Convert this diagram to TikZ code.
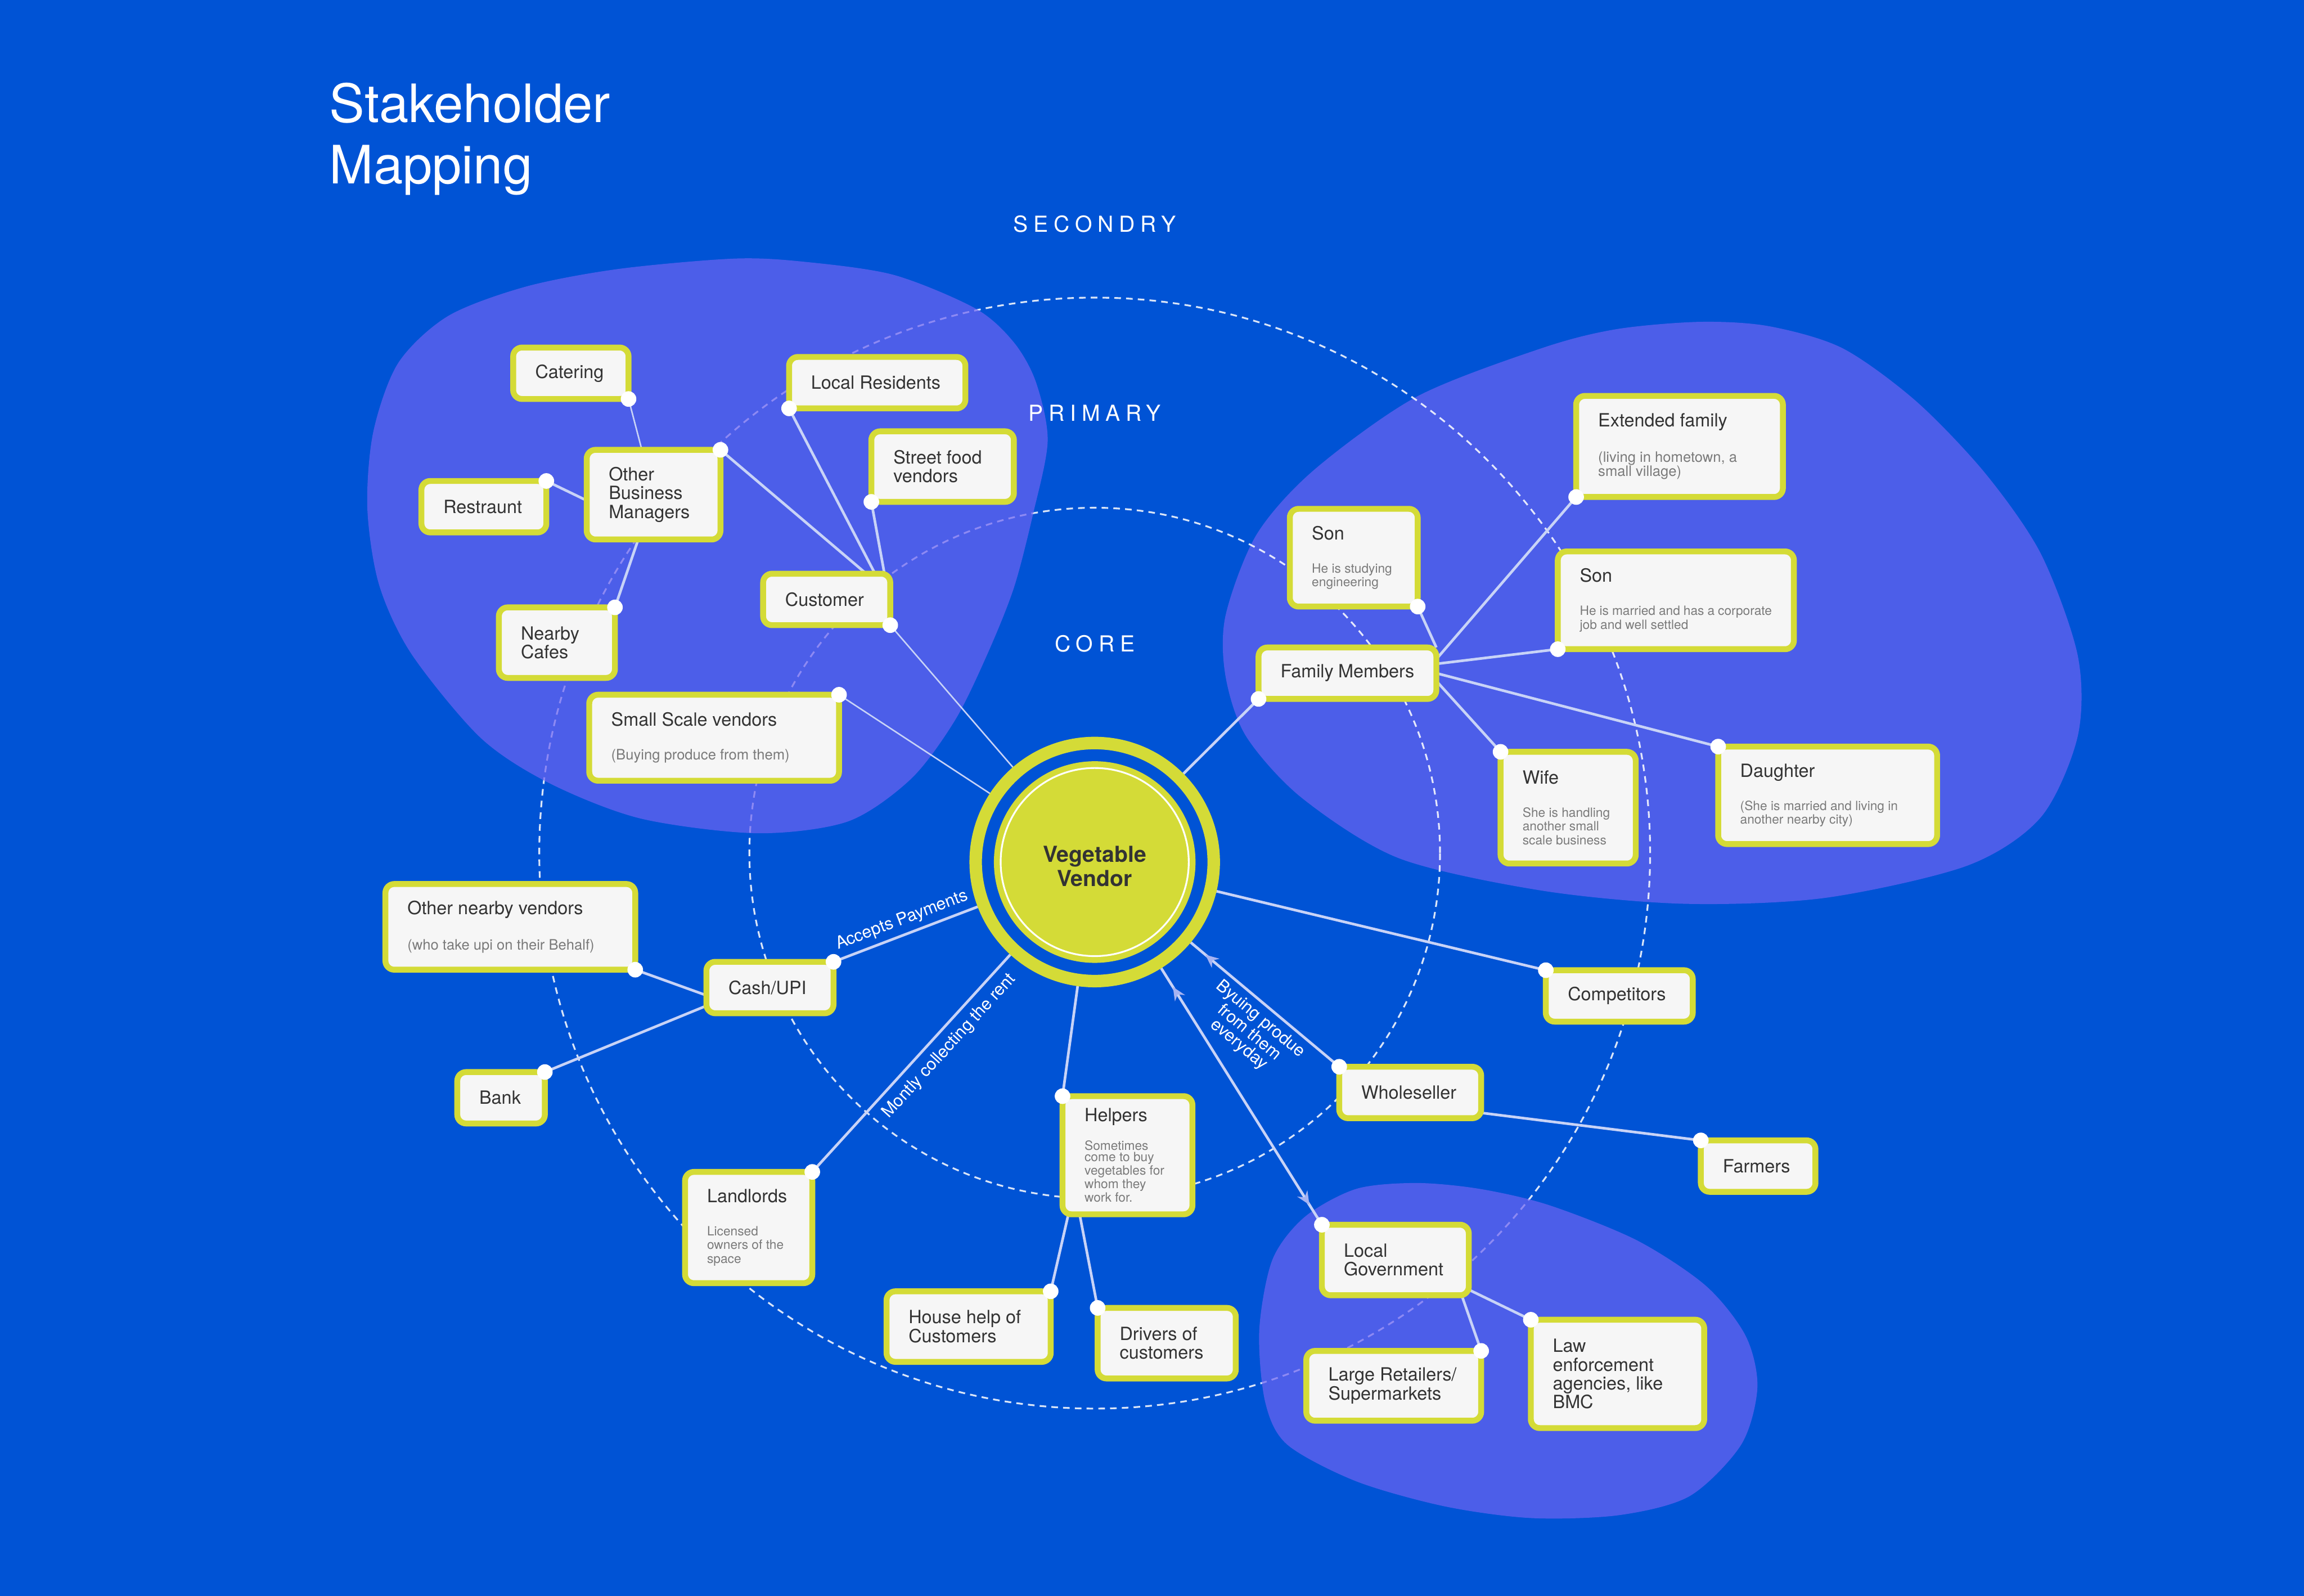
\documentclass[tikz,border=0pt]{standalone}
\usepackage{fontspec}
\setmainfont{TeX Gyre Heros}
\usetikzlibrary{arrows.meta, decorations.markings}

\definecolor{sea}{HTML}{0053D5}
\definecolor{blobc}{HTML}{4C5EE9}
\definecolor{blobt}{HTML}{6D63F2}
\definecolor{lime}{HTML}{D4DB37}
\definecolor{paper}{HTML}{F6F6F6}
\definecolor{ink}{HTML}{333333}
\definecolor{mute}{HTML}{7A7A7A}
\definecolor{wire}{HTML}{C8D3F7}
\definecolor{tipc}{HTML}{A6B3F2}

\pgfdeclarelayer{back}
\pgfdeclarelayer{links}
\pgfsetlayers{back,links,main}

\newcommand{\ttlfont}{\fontsize{12.4}{12.8}\selectfont}
\newcommand{\subfont}{\fontsize{8.7}{9.4}\selectfont\color{mute}}
\newcommand{\subwfont}{\fontsize{9.8}{9.7}\selectfont\color{mute}}
% title line plus a small grey note under it
\newcommand{\card}[2]{{\ttlfont #1\par}\vspace{13.2pt}{\subfont #2\par}}
\newcommand{\cardw}[2]{{\ttlfont #1\par}\vspace{13.3pt}{\subwfont #2\par}}

\begin{document}
\begin{tikzpicture}[x=1pt, y=-1pt,
    card/.style={rectangle, rounded corners=6pt, draw=lime, line width=4pt,
      fill=paper, text=ink, align=flush left, inner xsep=15pt, inner ysep=0pt,
      outer sep=0pt, font=\ttlfont},
    hub/.style={circle, draw=lime, line width=8.5pt, fill=sea,
      minimum size=162pt, inner sep=0pt, align=center, text=ink,
      text height=32.8pt, font=\fontsize{15}{16.4}\selectfont\bfseries,
      path picture={
        \fill[lime] (path picture bounding box.center) circle (68.6pt);
        \draw[white, line width=1.2pt] (path picture bounding box.center) circle (64pt);
      }},
    link/.style={draw=wire, line width=1.8pt},
    thinlink/.style={draw=wire, line width=1pt},
    ring/.style={draw=white, draw opacity=0.85, line width=1.2pt,
      dash pattern=on 4.5pt off 3.5pt},
    ringlbl/.style={text=white, inner sep=0pt,
      font=\fontsize{15}{15}\selectfont\addfontfeature{LetterSpace=25}},
    note/.style={text=white, sloped, font=\fontsize{11.6}{10.6}\selectfont},
    backtip/.style={postaction={decorate}, decoration={markings,
      mark=at position 13pt with {\arrowreversed{Stealth[length=9pt, width=8pt, color=tipc]}}}},
    bothtip/.style={postaction={decorate}, decoration={markings,
      mark=at position 15pt with {\arrowreversed{Stealth[length=9pt, width=8pt, color=tipc]}},
      mark=at position -16pt with {\arrow{Stealth[length=9pt, width=8pt, color=tipc]}}}}
  ]

    \useasboundingbox (0,0) rectangle (1568,1086);

    % --- Background, groups and rings ---
    \begin{pgfonlayer}{back}
      \fill[sea] (0,0) rectangle (1568,1086);
      % family group sits under the rings
      \fill[blobc] plot[smooth cycle] coordinates {(1157,219) (1204,222) (1254,237)
        (1304,273) (1351,322) (1389,377) (1414,446) (1414,501) (1389,556) (1339,589)
        (1242,611) (1146,615) (1049,606) (952,584) (886,543) (848,501) (834,460)
        (834,419) (855,364) (894,320) (964,270) (1049,237) (1100,224)};
      \draw[ring] (745,580.5) circle (235pt);
      \draw[ring] (745,580.5) circle (378pt);
      % customer group and government group lie over the rings
      \fill[blobt, fill opacity=0.7] plot[smooth cycle] coordinates {(499,176) (546,178)
        (608,187) (664,210) (690,233) (705,260) (713,300) (703,350) (690,400) (672,445)
        (650,490) (620,530) (577,559) (515,567) (436,557) (374,533) (327,502) (280,445)
        (258,398) (250,346) (254,294) (271,247) (305,215) (358,195) (421,183)};
      \fill[blobt, fill opacity=0.7] plot[smooth cycle] coordinates {(964,805) (1007,809)
        (1054,820) (1114,844) (1161,875) (1188,909) (1196,944) (1185,983) (1150,1018)
        (1102,1031) (1042,1033) (983,1025) (923,1008) (876,983) (861,954) (857,905)
        (866,857) (888,828) (923,809)};
    \end{pgfonlayer}

    % --- Heading and ring names ---
    \node[anchor=north west, inner sep=0pt, text=white, align=left,
          font=\fontsize{36}{41.8}\selectfont] (title) at (224,56) {Stakeholder\\Mapping};
    \node[ringlbl] (lblSec) at (745,152.6) {SECONDRY};
    \node[ringlbl] (lblPri) at (745,281) {PRIMARY};
    \node[ringlbl] (lblCore) at (745,438) {CORE};

    % --- Centre ---
    \node[hub] (vendor) at (745,586.6) {Vegetable\\Vendor};

    % --- Customer group ---
    \node[card, text width=48.5pt, minimum height=35] (cater) at (388.5,254) {Catering};
    \node[card, text width=90pt, minimum height=35] (resid) at (597,260.4) {Local~Residents};
    \node[card, text width=55pt, minimum height=35] (restr) at (329.3,344.8) {Restraunt};
    \node[card, text width=61pt, minimum height=61] (obm) at (444.8,336.6) {Other\\Business\\Managers};
    \node[card, text width=67pt, minimum height=48] (street) at (641.5,317.5) {Street~food\\vendors};
    \node[card, text width=49pt, minimum height=48] (cafes) at (379,437.3) {Nearby\\Cafes};
    \node[card, text width=56.5pt, minimum height=35] (cust) at (562.6,407.9) {Customer};
    \node[card, text width=140pt, minimum height=58.5] (small) at (486,502)
      {\cardw{Small~Scale~vendors}{(Buying~produce~from~them)}};

    % --- Family group ---
    \node[card, text width=57pt, minimum height=66.5] (sonA) at (921.3,379.5)
      {\card{Son}{He~is~studying\\engineering}};
    \node[card, text width=110.7pt, minimum height=68.8] (ext) at (1143,303.8)
      {\cardw{Extended~family}{(living~in~hometown,~a\\small~village)}};
    \node[card, text width=130.7pt, minimum height=66.5] (sonB) at (1140.5,408.5)
      {\card{Son}{He~is~married~and~has~a~corporate\\job~and~well~settled}};
    \node[card, text width=91pt, minimum height=35] (fam) at (917,458.1) {Family~Members};
    \node[card, text width=62pt, minimum height=76] (wife) at (1067.2,549.6)
      {\card{Wife}{She~is~handling\\another~small\\scale~business}};
    \node[card, text width=119pt, minimum height=66.3] (dau) at (1243.8,541.2)
      {\card{Daughter}{(She~is~married~and~living~in\\another~nearby~city)}};

    % --- Money ---
    \node[card, text width=140pt, minimum height=58.3] (nearv) at (347.3,630.7)
      {\cardw{Other~nearby~vendors}{(who~take~upi~on~their~Behalf)}};
    \node[card, text width=56.5pt, minimum height=35] (cash) at (524,672) {Cash/UPI};
    \node[card, text width=29.6pt, minimum height=35] (bank) at (341,747) {Bank};

    % --- Trade ---
    \node[card, text width=70pt, minimum height=35] (comp) at (1102,677.7) {Competitors};
    \node[card, text width=66.6pt, minimum height=35] (whole) at (959.7,743.4) {Wholeseller};
    \node[card, text width=48pt, minimum height=35] (farm) at (1196.5,793.5) {Farmers};

    % --- Bottom ---
    \node[card, text width=58.4pt, minimum height=80.4] (help) at (767.3,786.1)
      {{\ttlfont Helpers\par}\vspace{9.2pt}{\fontsize{8.7}{7.5}\selectfont\color{mute}
       Sometimes\\come~to~buy\\vegetables~for\\whom~they\\work~for.\par}};
    \node[card, text width=56.6pt, minimum height=75.7] (land) at (509.5,835.3)
      {\card{Landlords}{Licensed\\owners~of~the\\space}};
    \node[card, text width=81.7pt, minimum height=48] (house) at (659.2,902.7) {House~help~of\\Customers};
    \node[card, text width=64pt, minimum height=48] (driv) at (794,914) {Drivers~of\\customers};

    % --- Government group ---
    \node[card, text width=70pt, minimum height=48] (gov) at (949.6,857.4) {Local\\Government};
    \node[card, text width=89pt, minimum height=47.5] (retail) at (948.5,943) {Large~Retailers/\\Supermarkets};
    \node[card, text width=88pt, minimum height=73.7] (law) at (1100.8,934.9)
      {Law\\enforcement\\agencies,~like\\BMC};

    % --- Connectors (behind the cards) ---
    \begin{pgfonlayer}{links}
      \draw[thinlink] (cater.south east) -- (obm);
      \draw[link] (restr.north east) -- (obm.185);
      \draw[link] (cafes.north east) -- (obm);
      \draw[link] (obm.north east) -- (cust.33);
      \draw[link] (resid.south west) -- (cust.28);
      \draw[link] (street.south west) -- (cust.24);
      \draw[thinlink] (vendor) -- (cust.south east);
      \draw[thinlink] (vendor) -- (small.north east);

      \draw[link] (vendor) -- (fam.south west);
      \draw[link] (fam.north east) -- (sonA.south east);
      \draw[link] (fam.9) -- (ext.south west);
      \draw[link] (fam.6) -- (sonB.south west);
      \draw[link] (fam.east) -- (dau.north west);
      \draw[link] (fam.355) -- (wife.north west);

      \draw[link] (vendor) -- (cash.north east)
        node[note, above, pos=0.49] {Accepts Payments};
      \draw[link] (cash.187) -- (nearv.south east);
      \draw[link] (cash.196) -- (bank.north east);
      \draw[link] (vendor) -- (land.north east)
        node[note, below, pos=0.37, inner sep=5pt] {Montly collecting the rent};

      \draw[link] (vendor) -- (comp.north west);
      \draw[link, backtip] (vendor) -- (whole.north west)
        node[note, below, pos=0.53, align=center] {Byuing produe\\from them\\everyday};
      \draw[link] (whole.344) -- (farm.north west);

      \draw[link] (vendor) -- (help.north west);
      \draw[link] (help.225) -- (house.north east);
      \draw[link] (help.231) -- (driv.north west);

      \draw[link, bothtip] (vendor) -- (gov.north west);
      \draw[link] (gov.338) -- (law.north west);
      \draw[link] (gov.332) -- (retail.north east);
    \end{pgfonlayer}

    % --- Connection dots ---
    \foreach \p in {cater.south east, resid.south west, restr.north east, obm.north east,
        street.south west, cafes.north east, cust.south east, small.north east,
        sonA.south east, ext.south west, sonB.south west, fam.south west,
        wife.north west, dau.north west, nearv.south east, cash.north east,
        bank.north east, comp.north west, whole.north west, farm.north west,
        help.north west, land.north east, house.north east, driv.north west,
        gov.north west, retail.north east, law.north west}
      \fill[white] (\p) circle (5.3pt);

\end{tikzpicture}
\end{document}
